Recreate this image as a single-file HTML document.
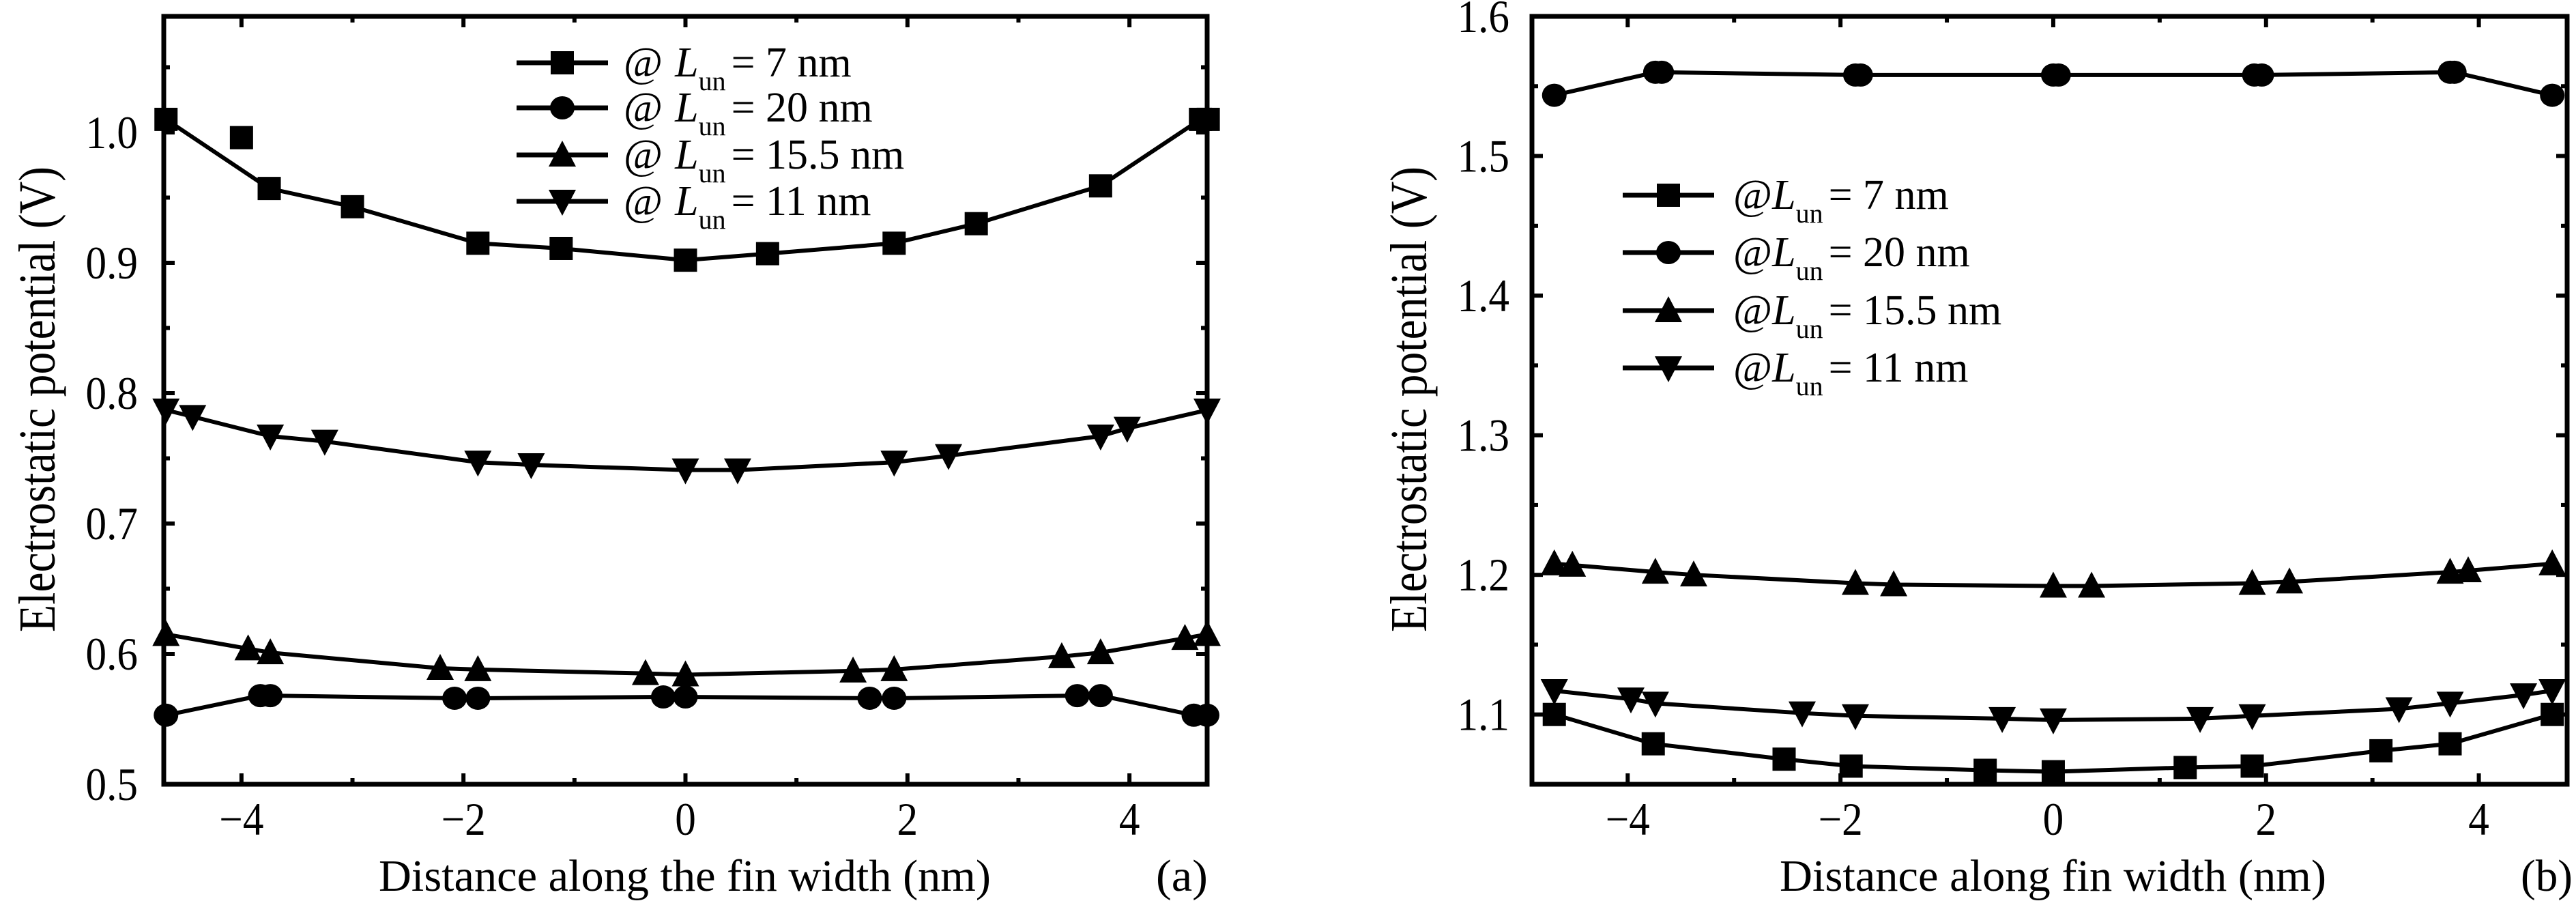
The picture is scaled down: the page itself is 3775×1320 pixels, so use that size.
<!DOCTYPE html>
<html><head><meta charset="utf-8"><style>
html,body{margin:0;padding:0;background:#fff;}
svg{display:block;font-family:"Liberation Serif",serif;}
</style></head><body>
<svg id="fig" width="3775" height="1320" viewBox="0 0 3775 1320" xmlns="http://www.w3.org/2000/svg"></svg>
<script>
// ---- Panel (a) data ----
const aX7 = [-4.68,-3.75,-3.0,-1.87,-1.12,0,0.74,1.88,2.62,3.74,4.64,4.71];
const aY7 = [1.010,0.957,0.943,0.915,0.911,0.902,0.907,0.915,0.930,0.959,1.010,1.010];
const aOutX = [-4.0];
const aOutY = [0.996];
const aX20 = [-4.68,-3.83,-3.74,-2.08,-1.87,-0.2,0,1.66,1.88,3.53,3.74,4.58,4.70];
const aY20 = [0.553,0.568,0.568,0.566,0.566,0.567,0.567,0.566,0.566,0.568,0.568,0.553,0.553];
const aX155 = [-4.68,-3.94,-3.74,-2.21,-1.87,-0.36,0,1.51,1.88,3.39,3.74,4.5,4.70];
const aY155 = [0.615,0.604,0.601,0.589,0.588,0.585,0.584,0.587,0.588,0.598,0.601,0.612,0.615];
const aX11 = [-4.68,-4.44,-3.74,-3.25,-1.87,-1.39,0,0.47,1.88,2.37,3.74,3.98,4.70];
const aY11 = [0.787,0.782,0.767,0.763,0.747,0.745,0.741,0.741,0.747,0.752,0.767,0.773,0.787];
// ---- Panel (b) data ----
const bX7 = [-4.69,-3.76,-2.53,-1.9,-0.64,0,1.24,1.87,3.08,3.73,4.69];
const bY7 = [1.100,1.079,1.068,1.063,1.060,1.059,1.062,1.063,1.074,1.079,1.100];
const bX20 = [-4.69,-3.74,-3.68,-1.86,-1.81,0,0.05,1.89,1.96,3.73,3.77,4.69];
const bY20 = [1.5435,1.560,1.560,1.558,1.558,1.558,1.558,1.558,1.558,1.560,1.560,1.5435];
const bX155 = [-4.69,-4.52,-3.74,-3.38,-1.86,-1.5,0,0.36,1.87,2.22,3.73,3.9,4.69];
const bY155 = [1.208,1.207,1.202,1.200,1.194,1.193,1.192,1.192,1.194,1.195,1.202,1.203,1.208];
const bX11 = [-4.69,-3.97,-3.74,-2.36,-1.86,-0.48,0,1.38,1.87,3.25,3.73,4.42,4.69];
const bY11 = [1.117,1.111,1.108,1.101,1.099,1.097,1.096,1.097,1.099,1.104,1.108,1.114,1.117];
const xTicks = [-4,-2,0,2,4];
const xTickLabels = ["\u22124","\u22122","0","2","4"];
const aYTicks = [0.5,0.6,0.7,0.8,0.9,1.0];
const aYTickLabels = ["0.5","0.6","0.7","0.8","0.9","1.0"];
const bYTicks = [1.1,1.2,1.3,1.4,1.5,1.6];
const bYTickLabels = ["1.1","1.2","1.3","1.4","1.5","1.6"];
const legendLabels = ["7","20","15.5","11"];

const NS="http://www.w3.org/2000/svg";
const svg=document.getElementById('fig');
function el(tag,attrs,parent){const e=document.createElementNS(NS,tag);for(const k in attrs)e.setAttribute(k,attrs[k]);(parent||svg).appendChild(e);return e;}

function marker(g,type,cx,cy){
  let m;const s=17;
  if(type==='sq') m=el('rect',{x:cx-s,y:cy-s,width:2*s,height:2*s,fill:'#000'},g);
  else if(type==='ci') m=el('ellipse',{cx:cx,cy:cy,rx:s+1,ry:s,fill:'#000'},g);
  else if(type==='up') m=el('polygon',{points:`${cx},${cy-s-4} ${cx-s-3},${cy+s} ${cx+s+3},${cy+s}`,fill:'#000'},g);
  else m=el('polygon',{points:`${cx},${cy+s+4} ${cx-s-3},${cy-s} ${cx+s+3},${cy-s}`,fill:'#000'},g);
  
  
  return m;
}

function panel(p){
  const g=el('g',{});
  
  
  const sx=v=>p.x0+(v-p.xmin)/(p.xmax-p.xmin)*(p.x1-p.x0);
  const sy=v=>p.y1-(v-p.ymin)/(p.ymax-p.ymin)*(p.y1-p.y0);
  p.series.forEach(s=>{
    const sg=el('g',{},g);
    
    
    if(s.line){
      const pl=el('polyline',{points:s.x.map((x,i)=>sx(x)+','+sy(s.y[i])).join(' '),fill:'none',stroke:'#000','stroke-width':6,'stroke-linejoin':'round'},sg);
      
      
    }
    s.x.forEach((x,i)=>marker(sg,s.m,sx(x),sy(s.y[i])));
  });
  const box=el('rect',{x:p.x0,y:p.y0,width:p.x1-p.x0,height:p.y1-p.y0,fill:'none',stroke:'#000','stroke-width':7},g);
  
  
  for(let v=Math.ceil(p.xmin);v<=p.xmax;v++){
    const X=sx(v);const L=(v%2===0)?16:9;
    el('line',{x1:X,y1:p.y1,x2:X,y2:p.y1-L,stroke:'#000','stroke-width':6},g);
    el('line',{x1:X,y1:p.y0,x2:X,y2:p.y0+L,stroke:'#000','stroke-width':6},g);
  }
  xTicks.forEach((v,i)=>{
    const t=el('text',{transform:`translate(${sx(v)},1223) scale(0.9,1)`,'font-size':68,'text-anchor':'middle'},g);
    t.textContent=xTickLabels[i];
    
    
  });
  for(let v=p.ymin;v<=p.ymax+1e-9;v+=0.05){
    const Y=sy(v);const maj=Math.abs(Math.round(v*10)-v*10)<1e-6;const L=maj?16:9;
    el('line',{x1:p.x0,y1:Y,x2:p.x0+L,y2:Y,stroke:'#000','stroke-width':6},g);
    el('line',{x1:p.x1,y1:Y,x2:p.x1-L,y2:Y,stroke:'#000','stroke-width':6},g);
  }
  p.yTicks.forEach((v,i)=>{
    const t=el('text',{transform:`translate(${p.ylabX},${sy(v)+23}) scale(0.9,1)`,'font-size':68,'text-anchor':'end'},g);
    t.textContent=p.yTickLabels[i];
    
    
  });
  const xt=el('text',{x:p.xtX,y:1305,'font-size':66,textLength:p.xtW,lengthAdjust:'spacingAndGlyphs'},g);
  xt.textContent=p.xTitle;
  
  
  const pl=el('text',{x:p.plX,y:1305,'font-size':66,textLength:76,lengthAdjust:'spacingAndGlyphs'},g);
  pl.textContent=p.pLabel;
  
  
  const yt=el('text',{transform:`translate(${p.ytX},926) rotate(-90)`,'font-size':76,textLength:682,lengthAdjust:'spacingAndGlyphs'},g);
  yt.textContent='Electrostatic potential (V)';
  
  
  const lg=el('g',{},g);
  
  
  const types=['sq','ci','up','dn'];
  p.legRows.forEach((ry,i)=>{
    const eg=el('g',{},lg);
    
    
    el('line',{x1:p.legX0,y1:ry,x2:p.legX0+134,y2:ry,stroke:'#000','stroke-width':7},eg);
    marker(eg,types[i],p.legX0+67,ry);
    const t=el('text',{x:p.legTX,y:ry+20,'font-size':62},eg);
    const a=el('tspan',{},t);a.textContent='@';
    const L=el('tspan',{'font-style':'italic',dx:p.legGap},t);L.textContent='L';
    const sub=el('tspan',{'font-size':40,dy:20},t);sub.textContent='un';
    const r=el('tspan',{dy:-20,dx:8},t);r.textContent='= '+legendLabels[i]+' nm';
  });
}

panel({name:'panel-a',x0:240,x1:1769,y0:24,y1:1149,xmin:-4.7,xmax:4.7,ymin:0.5,ymax:1.089,
  yTicks:aYTicks,yTickLabels:aYTickLabels,ylabX:202,xtX:555,xtW:897,xTitle:'Distance along the fin width (nm)',plX:1694,pLabel:'(a)',ytX:80,
  legRows:[92,158,227,295],legX0:757,legTX:914,legGap:18,
  series:[
    {name:'series-7nm',x:aX7,y:aY7,m:'sq',line:true},
    {name:'series-7nm-outlier',x:aOutX,y:aOutY,m:'sq',line:false},
    {name:'series-20nm',x:aX20,y:aY20,m:'ci',line:true},
    {name:'series-15-5nm',x:aX155,y:aY155,m:'up',line:true},
    {name:'series-11nm',x:aX11,y:aY11,m:'dn',line:true}]});
panel({name:'panel-b',x0:2245,x1:3762,y0:24,y1:1149,xmin:-4.9,xmax:4.83,ymin:1.05,ymax:1.6,
  yTicks:bYTicks,yTickLabels:bYTickLabels,ylabX:2212,xtX:2608,xtW:801,xTitle:'Distance along fin width (nm)',plX:3694,pLabel:'(b)',ytX:2090,
  legRows:[286,370,455,539],legX0:2378,legTX:2540,legGap:0,
  series:[
    {name:'series-7nm',x:bX7,y:bY7,m:'sq',line:true},
    {name:'series-20nm',x:bX20,y:bY20,m:'ci',line:true},
    {name:'series-15-5nm',x:bX155,y:bY155,m:'up',line:true},
    {name:'series-11nm',x:bX11,y:bY11,m:'dn',line:true}]});
</script>
</body></html>
